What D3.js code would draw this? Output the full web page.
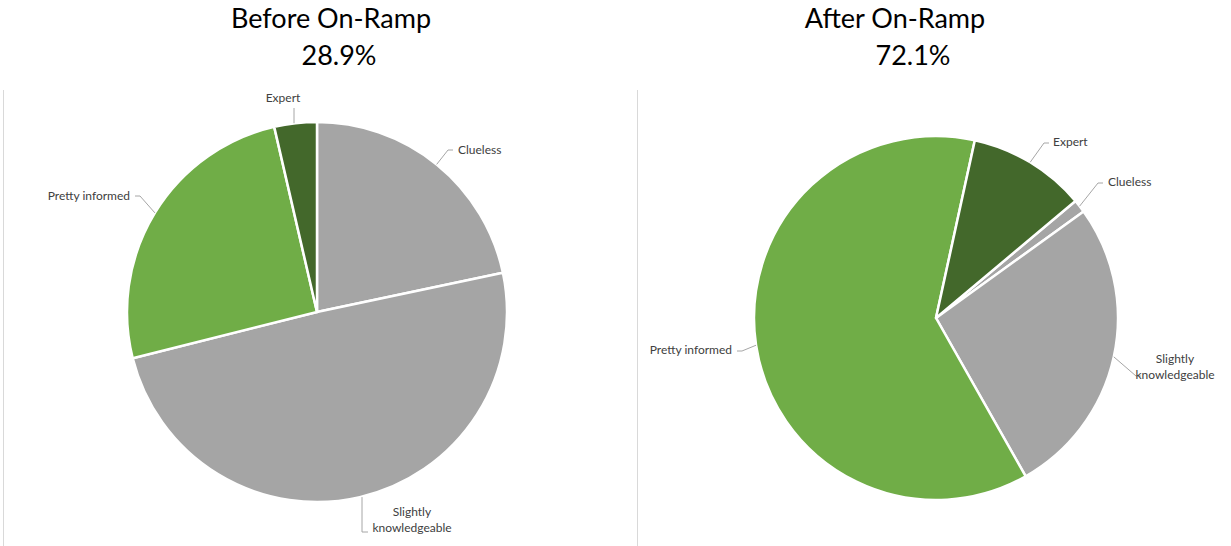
<!DOCTYPE html>
<html>
<head>
<meta charset="utf-8">
<script src="https://cdn.jsdelivr.net/npm/d3@7"></script>
<style>
  body { margin: 0; background: #fff; }
  svg text { font-family: Lato, "Open Sans", sans-serif; }
</style>
</head>
<body>
<script>
// data
var categories = ["Clueless", "Slightly knowledgeable", "Pretty informed", "Expert"];
var beforeCounts = [18, 41, 21, 3];
var afterCounts = [1, 23, 53, 9];
var titles = ["Before On-Ramp", "After On-Ramp"];
var subtitles = ["28.9%", "72.1%"];
var colors = ["#a5a5a5", "#a5a5a5", "#70ad47", "#43682b"];

var w = 1231, h = 546;

var svg = d3.select("body").append("svg")
  .attr("width", w).attr("height", h);

// panel borders
svg.append("line").attr("x1", 3.5).attr("x2", 3.5).attr("y1", 90).attr("y2", h)
  .attr("stroke", "#d9d9d9");
svg.append("line").attr("x1", 637.5).attr("x2", 637.5).attr("y1", 90).attr("y2", h)
  .attr("stroke", "#d9d9d9");

// layout for each chart; label spots are [x, y, anchor, elbowX, elbowY]
var charts = [
  {
    counts: beforeCounts, cx: 317, cy: 312, r: 190, start: 0,
    titleX: 331, subX: 339,
    labels: [
      [458, 150, "start", 448, 150],
      [412, 512, "middle", 362, 532],
      [130, 196, "end", 140, 196],
      [283, 98, "middle", 294, 108]
    ]
  },
  {
    counts: afterCounts, cx: 936, cy: 318, r: 182, start: 50,
    titleX: 895, subX: 913,
    labels: [
      [1108, 182, "start", 1098, 183],
      [1175, 359, "middle", 1136, 376],
      [732, 350, "end", 742, 351],
      [1053, 142, "start", 1044, 143]
    ]
  }
];

charts.forEach(function(c, ci){
  var g = svg.append("g");

  g.append("text").attr("x", c.titleX).attr("y", 28)
    .attr("text-anchor", "middle").attr("font-size", 27).attr("fill", "#000")
    .text(titles[ci]);
  g.append("text").attr("x", c.subX).attr("y", 65)
    .attr("text-anchor", "middle").attr("font-size", 27).attr("fill", "#000")
    .text(subtitles[ci]);

  var a0 = c.start * Math.PI / 180;
  var pie = d3.pie().sort(null).startAngle(a0).endAngle(a0 + 2 * Math.PI);
  var arcs = pie(c.counts);
  var arc = d3.arc().innerRadius(0).outerRadius(c.r);
  var edge = d3.arc().innerRadius(c.r).outerRadius(c.r);

  var pg = g.append("g").attr("transform", "translate(" + c.cx + "," + c.cy + ")");
  pg.selectAll("path").data(arcs).enter().append("path")
    .attr("d", arc)
    .attr("fill", function(d, i){ return colors[i]; })
    .attr("stroke", "#fff").attr("stroke-width", 2.5)
    .attr("stroke-linejoin", "round");

  arcs.forEach(function(d, i){
    var p = edge.centroid(d);
    var px = c.cx + p[0], py = c.cy + p[1];
    var L = c.labels[i];
    var pts;
    if (L[2] === "middle" && ci === 0 && i === 1) {
      // vertical drop with a small foot
      pts = [[L[3], py], [L[3], L[4]], [L[3] + 6, L[4]]];
    } else if (L[2] === "middle" && ci === 0) {
      pts = [[L[3], py], [L[3], L[4]]];
    } else if (L[2] === "end") {
      pts = [[px, py], [L[3], L[4]], [L[3] - 5, L[4]]];
    } else {
      pts = [[px, py], [L[3], L[4]], [L[3] + 5, L[4]]];
    }
    g.append("path")
      .attr("d", d3.line()(pts))
      .attr("fill", "none").attr("stroke", "#a6a6a6").attr("stroke-width", 1);

    var name = categories[i];
    var t = g.append("text").attr("x", L[0]).attr("y", L[1] + 4)
      .attr("text-anchor", L[2]).attr("font-size", 12).attr("fill", "#404040");
    if (name === "Slightly knowledgeable") {
      t.append("tspan").attr("x", L[0]).text("Slightly");
      t.append("tspan").attr("x", L[0]).attr("dy", 16).text("knowledgeable");
    } else {
      t.text(name);
    }
  });
});
</script>
</body>
</html>
